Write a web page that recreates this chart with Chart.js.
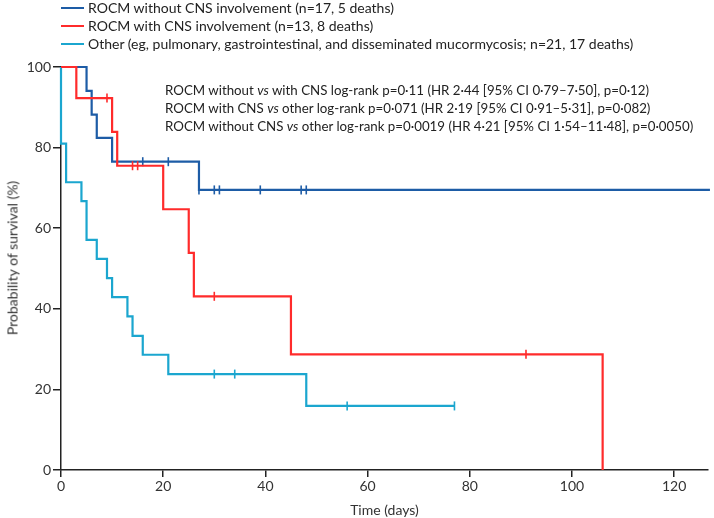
<!DOCTYPE html>
<html>
<head>
<meta charset="utf-8">
<script src="https://cdn.jsdelivr.net/npm/chart.js@4/dist/chart.umd.min.js"></script>
<style>
  body{margin:0;background:#fff;}
  #wrap{position:relative;width:714px;height:518px;font-family:Lato,sans-serif;color:#222;}
  #grafico{position:absolute;left:0;top:0;}
  .leyenda{position:absolute;left:61px;top:-1px;font-size:14px;line-height:18px;}
  .leyenda div{white-space:nowrap;}
  .leyenda span{display:inline-block;width:23px;height:2px;vertical-align:middle;margin-right:4px;position:relative;top:-1px;}
  .notas{position:absolute;left:165px;top:81px;font-size:13.3px;line-height:18.2px;white-space:nowrap;font-variant-numeric:tabular-nums;}
  .titulo-y{position:absolute;left:12px;top:258px;font-size:14px;color:#333;white-space:nowrap;transform:translate(-50%,-50%) rotate(-90deg);}
</style>
</head>
<body>
<div id="wrap">
  <canvas id="grafico" width="714" height="518"></canvas>
  <div class="leyenda" id="leyenda"></div>
  <div class="notas">
    <div>ROCM without <i>vs</i> with CNS log-rank p=0·11 (HR 2·44 [95% CI 0·79–7·50], p=0·12)</div>
    <div>ROCM with CNS <i>vs</i> other log-rank p=0·071 (HR 2·19 [95% CI 0·91–5·31], p=0·082)</div>
    <div>ROCM without CNS <i>vs</i> other log-rank p=0·0019 (HR 4·21 [95% CI 1·54–11·48], p=0·0050)</div>
  </div>
  <div class="titulo-y">Probability of survival (%)</div>
</div>
<script>
// datos (dias, supervivencia %)
const nombres = [
  'ROCM without CNS involvement (n=17, 5 deaths)',
  'ROCM with CNS involvement (n=13, 8 deaths)',
  'Other (eg, pulmonary, gastrointestinal, and disseminated mucormycosis; n=21, 17 deaths)'
];
const colores = ['#1d5ca6', '#ff2b2b', '#1ba6cf'];

const sinCnsDias = [0, 5, 6, 7, 10, 27, 127];
const sinCnsSup  = [100, 94.1, 88.2, 82.4, 76.5, 69.5, 69.5];
const sinCnsCens = [16, 21, 27, 30, 31, 39, 47, 48];

const conCnsDias = [0, 3, 10, 11, 20, 25, 26, 45, 106];
const conCnsSup  = [100, 92.3, 83.9, 75.5, 64.7, 53.9, 43.1, 28.7, 0];
const conCnsCens = [9, 14, 15, 30, 91];

const otroDias = [0, 0, 1, 4, 5, 7, 9, 10, 13, 14, 16, 21, 48, 77];
const otroSup  = [100, 81.0, 71.4, 66.7, 57.1, 52.4, 47.6, 42.9, 38.1, 33.3, 28.6, 23.8, 15.9, 15.9];
const otroCens = [30, 34, 56, 77];

const ticksX = [0, 20, 40, 60, 80, 100, 120];
const ticksY = [0, 20, 40, 60, 80, 100];
const maxX = 126.6;

function puntos(dias, sup){
    return dias.map((d, i) => ({x: d, y: sup[i]}));
}
// valor de la curva en el dia t (para las marcas de censura)
function supEn(dias, sup, t){
    let v = sup[0];
    for(let i = 0; i < dias.length; i++){
        if(dias[i] <= t) v = sup[i];
    }
    return v;
}
function censuras(dias, sup, cens){
    return cens.map(t => ({x: t, y: supEn(dias, sup, t)}));
}

let leyenda = document.getElementById('leyenda');
nombres.forEach((n, i) => {
    let fila = document.createElement('div');
    fila.innerHTML = '<span style="background:' + colores[i] + '"></span>' + n;
    leyenda.appendChild(fila);
});

function curva(dias, sup, color){
    return {
        data: puntos(dias, sup),
        borderColor: color,
        borderWidth: 2.2,
        stepped: true,
        pointRadius: 0,
        fill: false,
        clip: false,
        borderCapStyle: 'butt'
    };
}
function marcas(dias, sup, cens, color){
    return {
        data: censuras(dias, sup, cens),
        showLine: false,
        borderColor: color,
        backgroundColor: color,
        pointStyle: 'line',
        rotation: 90,
        pointRadius: 4.5,
        pointHoverRadius: 4.5,
        borderWidth: 1.6,
        clip: false
    };
}

let datos = {
    datasets: [
        marcas(conCnsDias, conCnsSup, conCnsCens, colores[1]),
        curva(conCnsDias, conCnsSup, colores[1]),
        marcas(sinCnsDias, sinCnsSup, sinCnsCens, colores[0]),
        curva(sinCnsDias, sinCnsSup, colores[0]),
        marcas(otroDias, otroSup, otroCens, colores[2]),
        curva(otroDias, otroSup, colores[2])
    ]
};

let fuente = {family: 'Lato', size: 14};
let opciones = {
    responsive: false,
    animation: false,
    layout: {padding: {top: 67, right: 0, bottom: 0, left: 0}},
    plugins: {legend: {display: false}, tooltip: {enabled: false}},
    scales: {
        x: {
            type: 'linear',
            min: 0,
            max: maxX,
            afterBuildTicks: s => { s.ticks = ticksX.map(v => ({value: v})); },
            afterFit: s => { s.height = 48; },
            ticks: {color: '#333', font: fuente, padding: 1, maxRotation: 0},
            grid: {drawOnChartArea: false, drawTicks: true, tickLength: 7, color: '#222', lineWidth: 1.5},
            border: {color: '#222', width: 1.5},
            title: {display: true, text: 'Time (days)', color: '#333', font: fuente, padding: {top: 0, bottom: -1}}
        },
        y: {
            min: 0,
            max: 100,
            afterBuildTicks: s => { s.ticks = ticksY.map(v => ({value: v})); },
            afterFit: s => { s.width = 61; },
            ticks: {color: '#333', font: fuente, padding: 2},
            grid: {drawOnChartArea: false, drawTicks: true, tickLength: 8, color: '#222', lineWidth: 1.5},
            border: {color: '#222', width: 1.5}
        }
    }
};

new Chart(document.getElementById('grafico').getContext('2d'), {
    type: 'line',
    data: datos,
    options: opciones
});
</script>
</body>
</html>
